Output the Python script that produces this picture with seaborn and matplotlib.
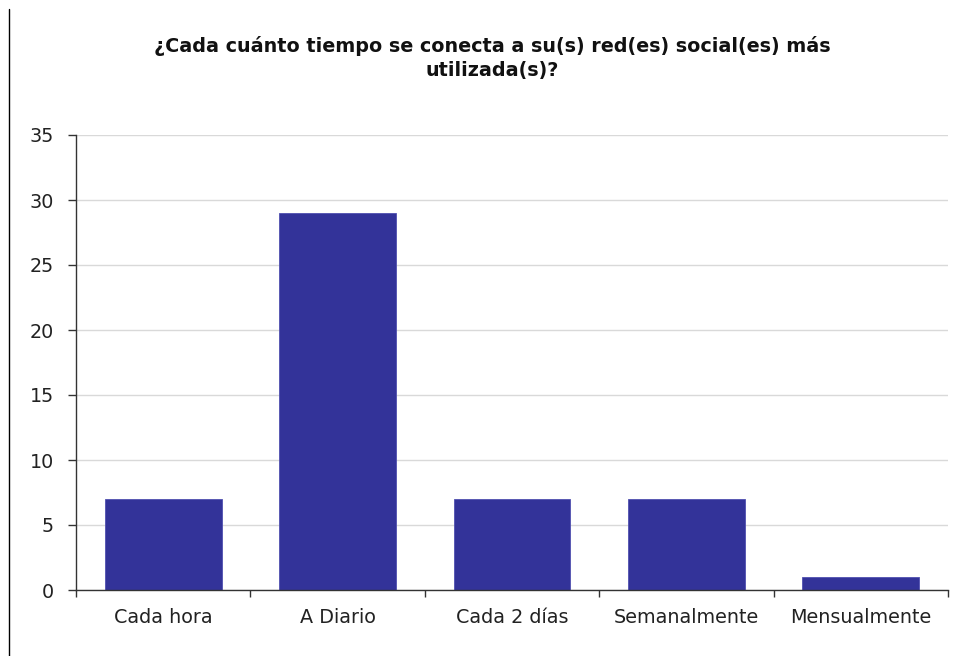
import matplotlib
matplotlib.use("Agg")
import matplotlib.pyplot as plt
import seaborn as sns
import pandas as pd
from matplotlib.lines import Line2D

categories = ["Cada hora", "A Diario", "Cada 2 días", "Semanalmente", "Mensualmente"]
values = [7, 29, 7, 7, 1]
yticks = [0, 5, 10, 15, 20, 25, 30, 35]
title = "¿Cada cuánto tiempo se conecta a su(s) red(es) social(es) más\nutilizada(s)?"

sns.set_theme(style="white")
plt.rcParams['font.family'] = ['DejaVu Sans']

df = pd.DataFrame({"cat": categories, "val": values})

fig = plt.figure(figsize=(9.58, 6.56), dpi=100)
ax = fig.add_axes([76/958, 1-590/656, (948-76)/958, (590-135)/656])

sns.barplot(data=df, x="cat", y="val", color="#333399", saturation=1, width=0.67,
            edgecolor="#5050b0", linewidth=0.6, ax=ax)

ax.set_ylim(0, 35)
ax.set_xlim(-0.5, len(categories)-0.5)
ax.set_yticks(yticks)
ax.set_yticklabels([str(t) for t in yticks], fontsize=13.8, color="#222222")
ax.yaxis.grid(True, color="#d9d9d9", linewidth=1)
ax.set_axisbelow(True)

ax.set_xticks(range(len(categories)))
ax.set_xticklabels(categories, fontsize=13.8, color="#222222")
ax.tick_params(axis="x", which="major", length=0, pad=13)
ax.set_xticks([i - 0.5 for i in range(len(categories)+1)], minor=True)
ax.tick_params(axis="x", which="minor", length=5, width=1, color="#333333", bottom=True, direction="out")
ax.tick_params(axis="y", which="major", length=6, width=1, color="#333333", left=True, direction="out", pad=10)

for s in ["top", "right"]:
    ax.spines[s].set_visible(False)
for s in ["left", "bottom"]:
    ax.spines[s].set_color("#333333")
    ax.spines[s].set_linewidth(1)

ax.set_xlabel("")
ax.set_ylabel("")

fig.text(492/958, 1-58/656, title, ha="center", va="center", fontsize=13.8,
         fontweight="bold", color="#111111", linespacing=1.3)

fig.add_artist(Line2D([8.5/958, 8.5/958], [0, 1-9/656], transform=fig.transFigure,
                      color="black", linewidth=1))

fig.savefig("out.png", dpi=100)
